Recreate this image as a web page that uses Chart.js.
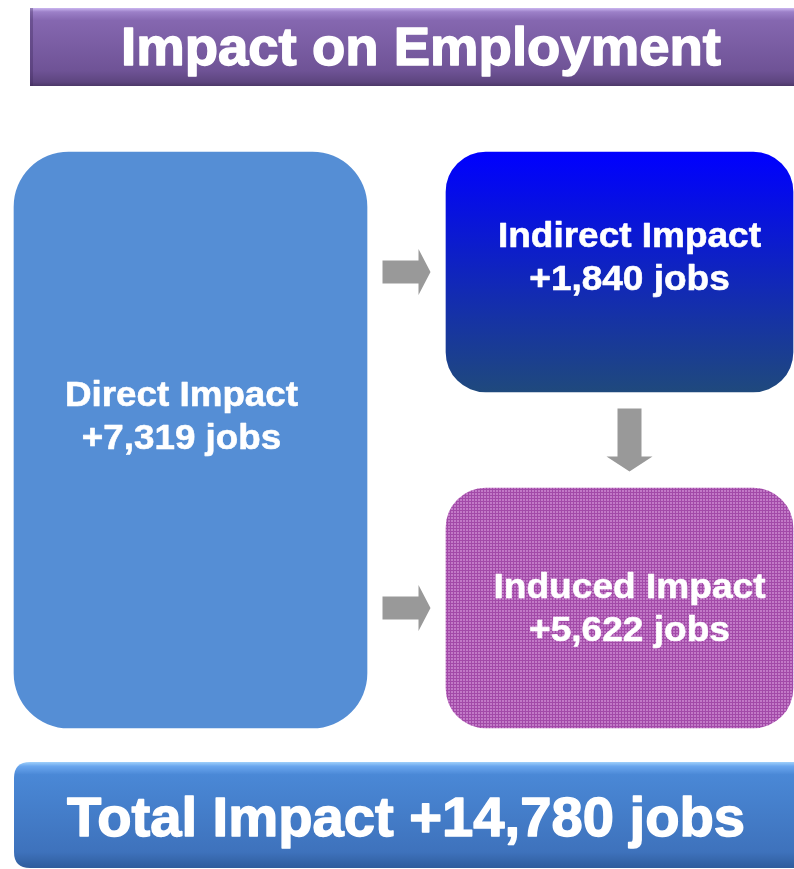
<!DOCTYPE html>
<html lang="en">
<head>
<meta charset="UTF-8">
<title>Impact on Employment</title>
<style>
    body {
        margin: 0;
        background-color: #ffffff;
    }

    #wrap {
        width: 794px;
        height: 869px;
    }
</style>
</head>
<body>
<div id="wrap"><canvas id="impactChart" width="794" height="869"></canvas></div>

<script src="https://cdn.jsdelivr.net/npm/chart.js"></script>
<script>
    // values
    const chartTitle = 'Impact on Employment';
    const impactNames = ['Direct Impact', 'Indirect Impact', 'Induced Impact'];
    const impactJobs = [7319, 1840, 5622];
    const totalName = 'Total Impact';
    const totalJobs = 14780;

    // diagram layout: which column each box sits in and which rows it spans (0 top .. 24 bottom)
    const columns = ['left', 'right'];
    const boxColumn = [0, 1, 1];
    const boxRows = [[0, 24], [0, 10], [14, 24]];

    const FONT = 'Arial, "Liberation Sans", Helvetica, sans-serif';
    const boxThickness = [353, 347];
    const boxRadius = [55, 40, 40];
    const textShift = [[-9, -14], [10, -5], [10, 10]];
    const labelWidth = [233, 263, 272];
    const ARROW = '#999999';

    const jobsText = n => '+' + n.toLocaleString('en-US') + ' jobs';

    function roundRect(ctx, x, y, w, h, r) {
        ctx.beginPath();
        ctx.moveTo(x + r, y);
        ctx.lineTo(x + w - r, y);
        ctx.quadraticCurveTo(x + w, y, x + w, y + r);
        ctx.lineTo(x + w, y + h - r);
        ctx.quadraticCurveTo(x + w, y + h, x + w - r, y + h);
        ctx.lineTo(x + r, y + h);
        ctx.quadraticCurveTo(x, y + h, x, y + h - r);
        ctx.lineTo(x, y + r);
        ctx.quadraticCurveTo(x, y, x + r, y);
        ctx.closePath();
    }

    // horizontal stretch so that text fills the width seen in the picture
    function stretchFor(ctx, text, size, width) {
        ctx.save();
        ctx.font = 'bold ' + size + 'px ' + FONT;
        const w = ctx.measureText(text).width;
        ctx.restore();
        return width / w;
    }

    function stretchedText(ctx, text, cx, baseline, size, stretch, weight) {
        ctx.save();
        ctx.translate(cx, baseline);
        ctx.scale(stretch, 1);
        ctx.font = 'bold ' + size + 'px ' + FONT;
        ctx.textAlign = 'center';
        ctx.textBaseline = 'alphabetic';
        ctx.fillStyle = '#ffffff';
        ctx.fillText(text, 0, 0);
        if (weight) {
            ctx.strokeStyle = '#ffffff';
            ctx.lineWidth = weight;
            ctx.lineJoin = 'round';
            ctx.strokeText(text, 0, 0);
        }
        ctx.restore();
    }

    function arrowRight(ctx, cx, cy) {
        const len = 48, shaft = 23, head = 12, headW = 46;
        const x0 = cx - len / 2, x1 = cx + len / 2 - head;
        ctx.beginPath();
        ctx.moveTo(x0, cy - shaft / 2);
        ctx.lineTo(x1, cy - shaft / 2);
        ctx.lineTo(x1, cy - headW / 2);
        ctx.lineTo(cx + len / 2, cy);
        ctx.lineTo(x1, cy + headW / 2);
        ctx.lineTo(x1, cy + shaft / 2);
        ctx.lineTo(x0, cy + shaft / 2);
        ctx.closePath();
        ctx.fillStyle = ARROW;
        ctx.fill();
    }

    function arrowDown(ctx, cx, cy) {
        const len = 63, shaft = 24, head = 15, headW = 46;
        const y0 = cy - len / 2, y1 = cy + len / 2 - head;
        ctx.beginPath();
        ctx.moveTo(cx - shaft / 2, y0);
        ctx.lineTo(cx + shaft / 2, y0);
        ctx.lineTo(cx + shaft / 2, y1);
        ctx.lineTo(cx + headW / 2, y1);
        ctx.lineTo(cx, cy + len / 2);
        ctx.lineTo(cx - headW / 2, y1);
        ctx.lineTo(cx - shaft / 2, y1);
        ctx.closePath();
        ctx.fillStyle = ARROW;
        ctx.fill();
    }

    // fine dotted pattern of the induced box
    function purplePattern() {
        const tile = document.createElement('canvas');
        tile.width = 3;
        tile.height = 3;
        const t = tile.getContext('2d');
        t.fillStyle = '#c27ac7';
        t.fillRect(0, 0, 3, 3);
        t.fillStyle = '#a24aa8';
        t.fillRect(0, 0, 3, 1);
        t.fillRect(0, 0, 1, 3);
        return document.getElementById('impactChart').getContext('2d').createPattern(tile, 'repeat');
    }

    function boxEdges(el) {
        return {
            left: el.x - el.width / 2,
            right: el.x + el.width / 2,
            top: Math.min(el.y, el.base),
            bottom: Math.max(el.y, el.base)
        };
    }

    const fills = [
        '#558ed5',
        ctx => {
            const chart = ctx.chart;
            if (!chart.chartArea) return '#0000ff';
            const y = chart.scales.y;
            const g = chart.ctx.createLinearGradient(0, y.getPixelForValue(boxRows[1][0]), 0, y.getPixelForValue(boxRows[1][1]));
            g.addColorStop(0, '#0000ff');
            g.addColorStop(1, '#1f497d');
            return g;
        },
        purplePattern()
    ];

    const diagramPlugin = {
        id: 'diagram',
        beforeDraw(chart) {
            const ctx = chart.ctx;
            ctx.save();
            ctx.fillStyle = '#ffffff';
            ctx.fillRect(0, 0, chart.width, chart.height);

            // title banner
            let g = ctx.createLinearGradient(0, 8, 0, 86);
            g.addColorStop(0, '#cbb6f0');
            g.addColorStop(0.05, '#9c80c8');
            g.addColorStop(0.16, '#8567b0');
            g.addColorStop(0.8, '#6f5396');
            g.addColorStop(0.95, '#5d457f');
            g.addColorStop(1, '#4c3868');
            ctx.fillStyle = g;
            ctx.fillRect(30, 8, 800, 78);
            ctx.fillStyle = 'rgba(60, 40, 90, 0.35)';
            ctx.fillRect(30, 8, 3, 78);
            stretchedText(ctx, chartTitle, 421, 65, 53, stretchFor(ctx, chartTitle, 53, 600), 1.4);

            // total bar
            g = ctx.createLinearGradient(0, 762, 0, 868);
            g.addColorStop(0, '#9fd0fb');
            g.addColorStop(0.04, '#6aa6ee');
            g.addColorStop(0.12, '#4a88d6');
            g.addColorStop(0.85, '#3e72bc');
            g.addColorStop(1, '#2f5c9c');
            roundRect(ctx, 14, 762, 800, 106, 16);
            ctx.fillStyle = g;
            ctx.fill();
            const total = totalName + ' ' + jobsText(totalJobs);
            stretchedText(ctx, total, 406, 836, 55, stretchFor(ctx, total, 55, 678), 1.4);
            ctx.restore();
        },
        afterDatasetsDraw(chart) {
            const ctx = chart.ctx;
            const boxes = impactNames.map((n, i) => boxEdges(chart.getDatasetMeta(i).data[boxColumn[i]]));
            ctx.save();
            impactNames.forEach((name, i) => {
                const b = boxes[i];
                const cx = (b.left + b.right) / 2 + textShift[i][0];
                const cy = (b.top + b.bottom) / 2 + textShift[i][1];
                const s = stretchFor(ctx, name, 35, labelWidth[i]);
                stretchedText(ctx, name, cx, cy - 20, 35, s, 0.6);
                stretchedText(ctx, jobsText(impactJobs[i]), cx, cy + 23, 35, s, 0.6);
            });

            // arrows: direct -> indirect, direct -> induced, indirect -> induced
            const gapX = (boxes[0].right + boxes[1].left) / 2;
            arrowRight(ctx, gapX, (boxes[1].top + boxes[1].bottom) / 2);
            arrowRight(ctx, gapX, (boxes[2].top + boxes[2].bottom) / 2);
            arrowDown(ctx, (boxes[1].left + boxes[1].right) / 2 + 10, (boxes[1].bottom + boxes[2].top) / 2);
            ctx.restore();
        }
    };

    const datasets = impactNames.map((name, i) => ({
        label: name,
        data: columns.map((c, j) => (j === boxColumn[i] ? boxRows[i] : null)),
        backgroundColor: fills[i],
        borderWidth: 0,
        borderRadius: boxRadius[i],
        borderSkipped: false,
        barThickness: boxThickness[boxColumn[i]],
        grouped: false,
        clip: false
    }));

    const chart = new Chart(document.getElementById('impactChart').getContext('2d'), {
        type: 'bar',
        data: {
            labels: columns,
            datasets: datasets
        },
        options: {
            responsive: false,
            animation: false,
            layout: {
                padding: { left: 190.5, right: 174.5, top: 152, bottom: 141 }
            },
            scales: {
                x: { display: false, offset: false },
                y: { display: false, reverse: true, min: 0, max: 24 }
            },
            plugins: {
                legend: { display: false },
                tooltip: { enabled: false }
            }
        },
        plugins: [diagramPlugin]
    });
</script>
</body>
</html>
